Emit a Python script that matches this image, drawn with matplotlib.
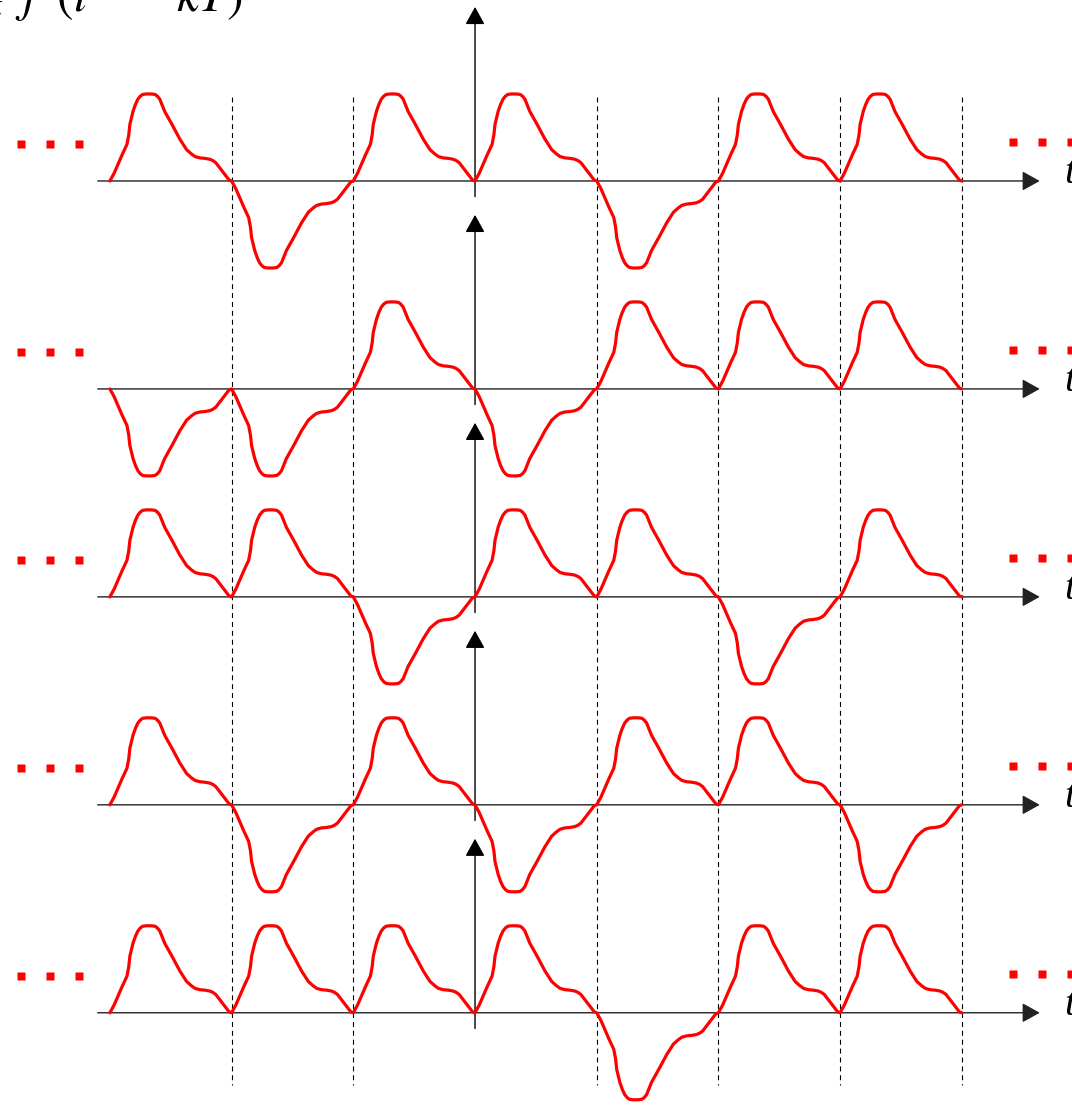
import numpy as np
import matplotlib
matplotlib.use("Agg")
import matplotlib.pyplot as plt

# Symbol sequences a_k for k = -3 .. 3, one row per sequence
k_values = [-3, -2, -1, 0, 1, 2, 3]
row_1 = [+1, -1, +1, +1, -1, +1, +1]
row_2 = [-1, -1, +1, -1, +1, +1, +1]
row_3 = [+1, +1, -1, +1, +1, -1, +1]
row_4 = [+1, -1, +1, -1, +1, +1, -1]
row_5 = [+1, +1, +1, +1, -1, +1, +1]
rows = [row_1, row_2, row_3, row_4, row_5]

# Basic pulse f(t) on 0 <= t <= T (t in units of T, unit peak height)
pulse_t = [0.0, 0.035, 0.066, 0.10, 0.14, 0.155, 0.164, 0.18, 0.19, 0.21, 0.23,
           0.25, 0.27, 0.30, 0.34, 0.37, 0.39, 0.41, 0.45, 0.51, 0.575, 0.63,
           0.67, 0.70, 0.74, 0.78, 0.82, 0.845, 0.87, 0.90, 0.94, 0.98, 1.0]
pulse_f = [0.0, 0.09, 0.19, 0.30, 0.42, 0.53, 0.65, 0.74, 0.80, 0.88, 0.94,
           0.975, 0.995, 1.0, 1.0, 0.995, 0.975, 0.94, 0.80, 0.65, 0.48, 0.36,
           0.31, 0.28, 0.265, 0.26, 0.25, 0.235, 0.21, 0.155, 0.08, 0.01, 0.0]

ROW_GAP = 2.39          # vertical distance between the rows (pulse heights)
DASH_AT = [-2, -1, 1, 2, 3, 4]

plt.rcParams["mathtext.fontset"] = "stix"

fig = plt.figure(figsize=(10.72, 11.05), dpi=100)
ax = fig.add_axes([0, 0, 1, 1])
ax.set_xlim(-3.903, 4.905)
ax.set_ylim(-10.62, 2.08)
ax.axis("off")

# dashed symbol-boundary markers
for xd in DASH_AT:
    ax.plot([xd, xd], [0.96, -10.39], color="black", lw=0.8,
            ls=(0, (4.5, 3.5)), zorder=1)

arrow_kw = dict(arrowstyle="-|>,head_length=1.08,head_width=0.6",
                mutation_scale=10, lw=1.0, color="black",
                shrinkA=0, shrinkB=0)

pt = np.array(pulse_t)
pf = np.array(pulse_f)
for r, signs in enumerate(rows):
    base = -r * ROW_GAP
    # time axis
    ax.annotate("", xy=(4.64, base), xytext=(-3.10, base),
                arrowprops=dict(arrow_kw, color="#222222"), zorder=2)
    # amplitude axis
    ax.annotate("", xy=(0, base + 2.0), xytext=(0, base - 0.18),
                arrowprops=arrow_kw, zorder=2)
    ax.text(4.84, base - 0.02, "t", fontsize=29, style="italic",
            family="Liberation Serif", ha="left", va="baseline")

    # pulse train sum_k a_k f(t - kT)
    xs, ys = [], []
    for k, a in zip(k_values, signs):
        xs.append(k + pt)
        ys.append(base + a * pf)
    ax.plot(np.concatenate(xs), np.concatenate(ys), color="#ff0000",
            lw=2.3, solid_joinstyle="round", solid_capstyle="round", zorder=3)

    # continuation dots on both sides
    ax.plot([-3.73, -3.49, -3.25], [base + 0.42] * 3, ls="none", marker="s",
            ms=6.4, color="#ff0000", mec="none")
    ax.plot([4.417, 4.66, 4.90], [base + 0.45] * 3, ls="none", marker="s",
            ms=6.4, color="#ff0000", mec="none")

fig.text(242 / 1072, 1 - 11 / 1105, r"$a_k\;\;f\;\;(t\;\;-\;\;kT)$",
         fontsize=36, ha="right", va="baseline")

fig.savefig("out.png", dpi=100)
